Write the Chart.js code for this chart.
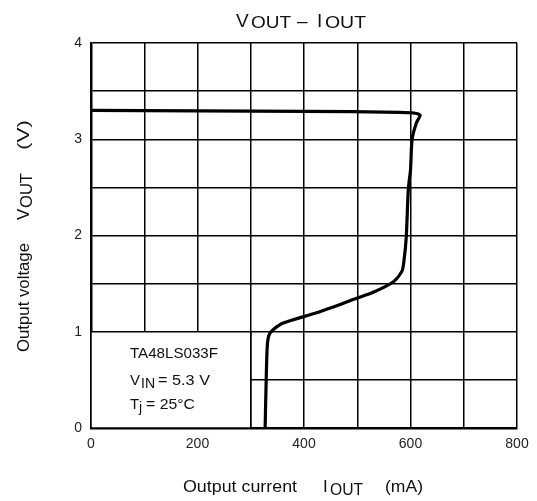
<!DOCTYPE html>
<html>
<head>
<meta charset="utf-8">
<script src="https://cdn.jsdelivr.net/npm/chart.js@4/dist/chart.umd.min.js"></script>
<style>
html,body{margin:0;padding:0;background:#fff;}
#wrap{width:537px;height:501px;}
</style>
</head>
<body>
<div id="wrap"><canvas id="c" width="537" height="501"></canvas></div>
<script>
// Data
const currentMA = [327, 329, 331, 334, 342, 361, 425, 500, 530, 568, 584, 588, 592, 596, 600, 603, 611, 618, 609, 580, 400, 0];
const voltageV  = [0, 0.5, 0.85, 0.96, 1.02, 1.09, 1.2, 1.35, 1.41, 1.52, 1.63, 1.75, 1.98, 2.49, 2.68, 3.0, 3.17, 3.25, 3.27, 3.28, 3.29, 3.3];
const xTickLabels = [0, 200, 400, 600, 800];
const yTickLabels = [0, 1, 2, 3, 4];

const FONT = '"Liberation Sans", Arial, sans-serif';
const points = currentMA.map((x, i) => ({x: x, y: voltageV[i]}));

// draw text starting at x, baseline y, optionally fitted to width w
function fitText(ctx, t, x, y, size, w) {
  ctx.font = size + 'px ' + FONT;
  ctx.textAlign = 'left';
  ctx.textBaseline = 'alphabetic';
  const mw = ctx.measureText(t).width;
  const s = w ? w / mw : 1;
  ctx.save();
  ctx.translate(x, y);
  ctx.scale(s, 1);
  ctx.fillText(t, 0, 0);
  ctx.restore();
}

const decor = {
  id: 'decor',
  beforeDatasetsDraw(chart) {
    const ctx = chart.ctx, xs = chart.scales.x, ys = chart.scales.y;
    const x0 = xs.getPixelForValue(0), x1 = xs.getPixelForValue(300);
    const y0 = ys.getPixelForValue(0), y1 = ys.getPixelForValue(1);
    ctx.save();
    ctx.fillStyle = '#fff';
    ctx.fillRect(x0, y1, x1 - x0, y0 - y1);
    ctx.strokeStyle = '#000';
    ctx.lineWidth = 1.5;
    ctx.strokeRect(x0, y1, x1 - x0, y0 - y1);
    ctx.fillStyle = '#111';
    fitText(ctx, 'TA48LS033F', 130, 358, 15, 88);
    fitText(ctx, 'V', 130, 385, 15);
    fitText(ctx, 'IN', 141, 388, 14);
    fitText(ctx, '= 5.3 V', 158, 385, 15, 52);
    fitText(ctx, 'T', 130, 409, 15);
    fitText(ctx, 'j', 139, 412, 14);
    fitText(ctx, '= 25°C', 146, 409, 15, 49);
    ctx.restore();
  },
  afterDraw(chart) {
    const ctx = chart.ctx;
    ctx.save();
    ctx.fillStyle = '#111';
    // title
    fitText(ctx, 'V', 236, 27, 19);
    fitText(ctx, 'OUT', 251, 28, 16, 40);
    fitText(ctx, '–', 297, 27, 19);
    fitText(ctx, 'I', 317, 27, 19);
    fitText(ctx, 'OUT', 325, 28, 16, 41);
    // x axis title
    fitText(ctx, 'Output current', 183, 492, 17, 114);
    fitText(ctx, 'I', 323, 492, 17);
    fitText(ctx, 'OUT', 330, 495, 16, 33);
    fitText(ctx, '(mA)', 385, 492, 17, 38);
    // y axis title (rotated)
    ctx.translate(29, 0);
    ctx.rotate(-Math.PI / 2);
    fitText(ctx, 'Output voltage', -352, 0, 17, 109);
    fitText(ctx, 'V', -220, 0, 17);
    fitText(ctx, 'OUT', -208, 3, 16, 35);
    fitText(ctx, '(V)', -150, 0, 17, 30);
    ctx.restore();
  }
};

new Chart(document.getElementById('c'), {
  type: 'scatter',
  data: {
    datasets: [{
      data: points,
      showLine: true,
      borderColor: '#000',
      borderWidth: 3.2,
      pointRadius: 0,
      tension: 0.25,
      fill: false
    }]
  },
  options: {
    responsive: false,
    animation: false,
    devicePixelRatio: 1,
    layout: {padding: {left: 0, top: 43, right: 20, bottom: 0}},
    plugins: {legend: {display: false}, tooltip: {enabled: false}, title: {display: false}},
    scales: {
      x: {
        type: 'linear', min: 0, max: 800,
        afterFit(s) { s.height = 73; },
        ticks: {
          stepSize: 100, padding: 8, color: '#222', font: {family: FONT, size: 14},
          callback: v => xTickLabels.includes(v) ? String(v) : ''
        },
        grid: {color: '#000', lineWidth: 1.5, drawTicks: false},
        border: {color: '#000', width: 2.5}
      },
      y: {
        type: 'linear', min: 0, max: 4,
        afterFit(s) { s.width = 91; },
        ticks: {
          stepSize: 0.5, padding: 9, color: '#222', font: {family: FONT, size: 14},
          callback: v => yTickLabels.includes(v) ? String(v) : ''
        },
        grid: {color: '#000', lineWidth: 1.5, drawTicks: false},
        border: {color: '#000', width: 2.5}
      }
    }
  },
  plugins: [decor]
});
</script>
</body>
</html>
